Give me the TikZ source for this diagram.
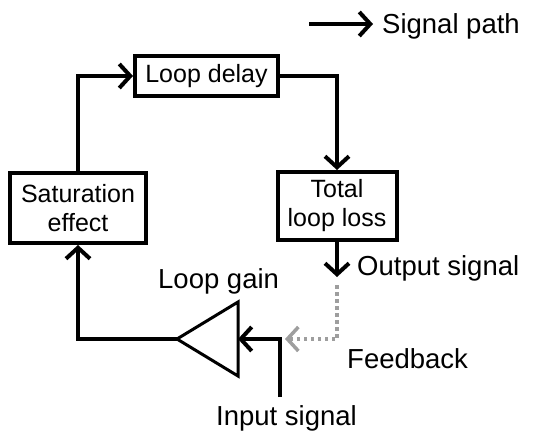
\documentclass[tikz,border=0pt]{standalone}
\usepackage{fontspec}
\setmainfont{Liberation Sans}
\usetikzlibrary{arrows.meta}
\begin{document}
\begin{tikzpicture}[x=1pt,y=-1pt,
  box/.style={draw, line width=4pt, inner sep=0pt, align=center, font=\fontsize{25}{29}\selectfont},
  lbl/.style={inner sep=0pt, anchor=base west, font=\fontsize{27.5}{32}\selectfont},
  sig/.style={line width=4pt, -{Straight Barb[length=11pt,width=24pt]}},
  fb/.style={line width=3.5pt, color=black!38, dash pattern=on 3.5pt off 3.5pt, -{Straight Barb[length=11pt,width=24pt]}},
  amp/.style={line width=3pt, line join=miter}
  ]
\useasboundingbox (0,0) rectangle (535,431);
\node[box, minimum width=143pt, minimum height=40pt] (delay) at (206.5,76) {Loop delay};
\node[box, minimum width=136pt, minimum height=70pt] (sat) at (78,208) {Saturation\\effect};
\node[box, minimum width=119pt, minimum height=68pt] (loss) at (337,206) {Total\\loop loss};
\draw[sig] (sat.north) |- (delay.west);
\draw[sig] (delay.east) -| (loss.north);
\coordinate (out) at (337,277);
\draw[sig] (loss.south) -- (out);
\coordinate (fbs) at (337,285);
\coordinate (fbe) at (285,339);
\draw[fb] (fbs) |- (fbe);
\coordinate (tip) at (177,339);
\coordinate (ta) at (238,302);
\coordinate (tb) at (238,376);
\draw[amp] (tip) -- (ta) -- (tb) -- cycle;
\coordinate (ampin) at (238,339);
\coordinate (inp) at (280,397);
\draw[sig] (inp) |- (ampin);
\draw[sig] (tip) -| (sat.south);
\coordinate (la) at (309,24);
\coordinate (lb) at (373,24);
\draw[sig] (la) -- (lb);
\node[lbl] (lsig) at (382,33) {Signal path};
\node[lbl] (lout) at (357,275) {Output signal};
\node[lbl] (lgain) at (158,288) {Loop gain};
\node[lbl] (lin) at (216,425) {Input signal};
\node[lbl] (lfb) at (347,368) {Feedback};
\end{tikzpicture}
\end{document}
